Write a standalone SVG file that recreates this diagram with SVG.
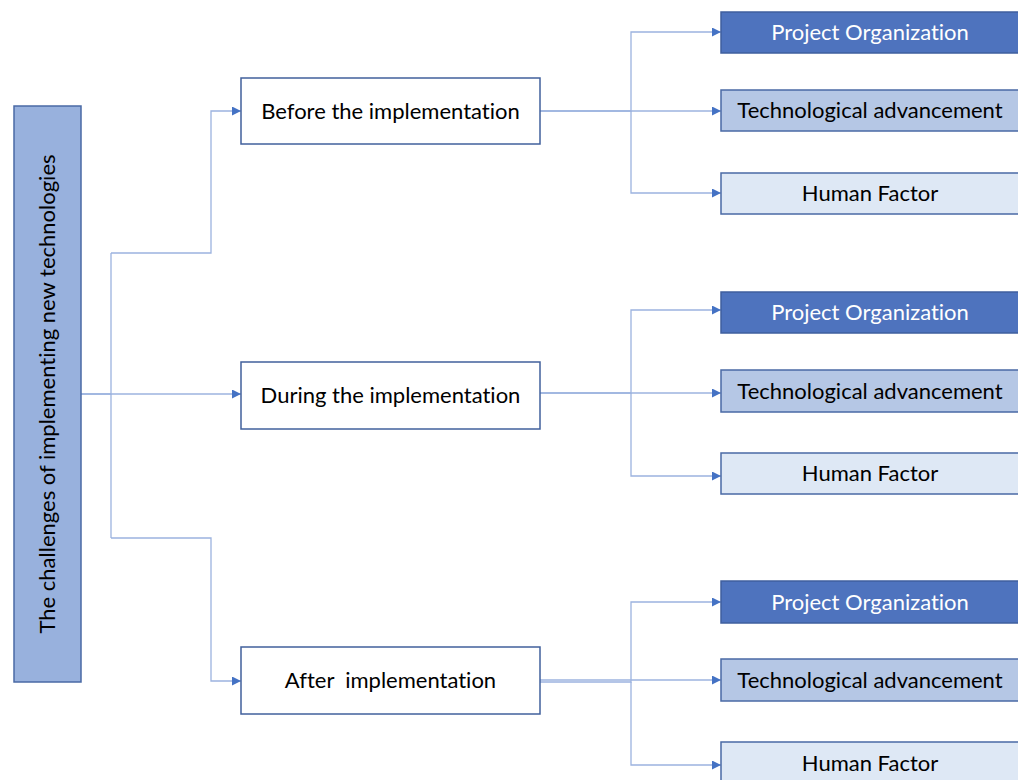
<svg xmlns="http://www.w3.org/2000/svg" width="1018" height="780" viewBox="0 0 1018 780">
  <style>
    .lbl { font-family: Lato, "Open Sans", "Liberation Sans", sans-serif; font-size: 22px; font-variant-ligatures: none; text-anchor: middle; dominant-baseline: central; fill: #000; }
    .light { fill: #fff; }
    .root { fill: #98b1dd; stroke: #4a6aa5; stroke-width: 1.5; }
    .phase { fill: #fff; stroke: #41609c; stroke-width: 1.5; }
    .po { fill: #4e73be; stroke: #3f5f9e; stroke-width: 1.5; }
    .ta { fill: #b5c7e5; stroke: #4a6aa5; stroke-width: 1.5; }
    .hf { fill: #dee8f5; stroke: #4a6aa5; stroke-width: 1.5; }
    .wire { fill: none; stroke: #9cb3df; stroke-width: 1.3; }
    .arrow { marker-end: url(#tip); }
  </style>
  <defs>
    <marker id="tip" viewBox="0 0 10 10" refX="10" refY="5" markerWidth="10" markerHeight="9" markerUnits="userSpaceOnUse" orient="auto">
      <path d="M0,0 L10,5 L0,10 z" fill="#4472c4"/>
    </marker>
  </defs>
  <rect width="1018" height="780" fill="#fff"/>

  <g id="connectors">
    <!-- root to phases -->
    <path class="wire" d="M81,394 H111 V253"/>
    <path class="wire arrow" d="M111,253 H211 V111 H241"/>
    <path class="wire arrow" d="M81,394 H241"/>
    <path class="wire" d="M111,394 V538"/>
    <path class="wire arrow" d="M111,538 H211 V681 H241"/>
    <!-- before -->
    <path class="wire arrow" d="M540,111 H631 V32 H721"/>
    <path class="wire arrow" d="M540,111 H721"/>
    <path class="wire arrow" d="M631,111 V193 H721"/>
    <!-- during -->
    <path class="wire arrow" d="M540,393 H631 V310 H721"/>
    <path class="wire arrow" d="M540,393 H721"/>
    <path class="wire arrow" d="M631,393 V476 H721"/>
    <!-- after -->
    <path class="wire arrow" d="M540,682 H631 V602 H721"/>
    <path class="wire arrow" d="M540,680 H721"/>
    <path class="wire arrow" d="M631,682 V765 H721"/>
  </g>

  <g id="root">
    <rect class="root" x="14" y="106" width="67" height="576"/>
    <text class="lbl" transform="translate(46,394) rotate(-90)">The challenges of implementing new technologies</text>
  </g>

  <g id="before">
    <rect class="phase" x="241" y="78" width="299" height="66"/>
    <text class="lbl" x="390.5" y="110">Before the implementation</text>
  </g>
  <g id="during">
    <rect class="phase" x="241" y="362" width="299" height="67"/>
    <text class="lbl" x="390.5" y="394.5">During the implementation</text>
  </g>
  <g id="after">
    <rect class="phase" x="241" y="647" width="299" height="67"/>
    <text class="lbl" x="390.5" y="679.5" xml:space="preserve">After  implementation</text>
  </g>

  <g id="before-project">
    <rect class="po" x="721" y="12" width="298" height="41"/>
    <text class="lbl light" x="870" y="31.5">Project Organization</text>
  </g>
  <g id="before-tech">
    <rect class="ta" x="721" y="90" width="298" height="41"/>
    <text class="lbl" x="870" y="109.5">Technological advancement</text>
  </g>
  <g id="before-human">
    <rect class="hf" x="721" y="173" width="298" height="41"/>
    <text class="lbl" x="870" y="192.5">Human Factor</text>
  </g>

  <g id="during-project">
    <rect class="po" x="721" y="292" width="298" height="41"/>
    <text class="lbl light" x="870" y="311.5">Project Organization</text>
  </g>
  <g id="during-tech">
    <rect class="ta" x="721" y="370" width="298" height="42"/>
    <text class="lbl" x="870" y="390">Technological advancement</text>
  </g>
  <g id="during-human">
    <rect class="hf" x="721" y="453" width="298" height="41"/>
    <text class="lbl" x="870" y="472.5">Human Factor</text>
  </g>

  <g id="after-project">
    <rect class="po" x="721" y="581" width="298" height="42"/>
    <text class="lbl light" x="870" y="601">Project Organization</text>
  </g>
  <g id="after-tech">
    <rect class="ta" x="721" y="659" width="298" height="42"/>
    <text class="lbl" x="870" y="679">Technological advancement</text>
  </g>
  <g id="after-human">
    <rect class="hf" x="721" y="742" width="298" height="42"/>
    <text class="lbl" x="870" y="762">Human Factor</text>
  </g>
</svg>
